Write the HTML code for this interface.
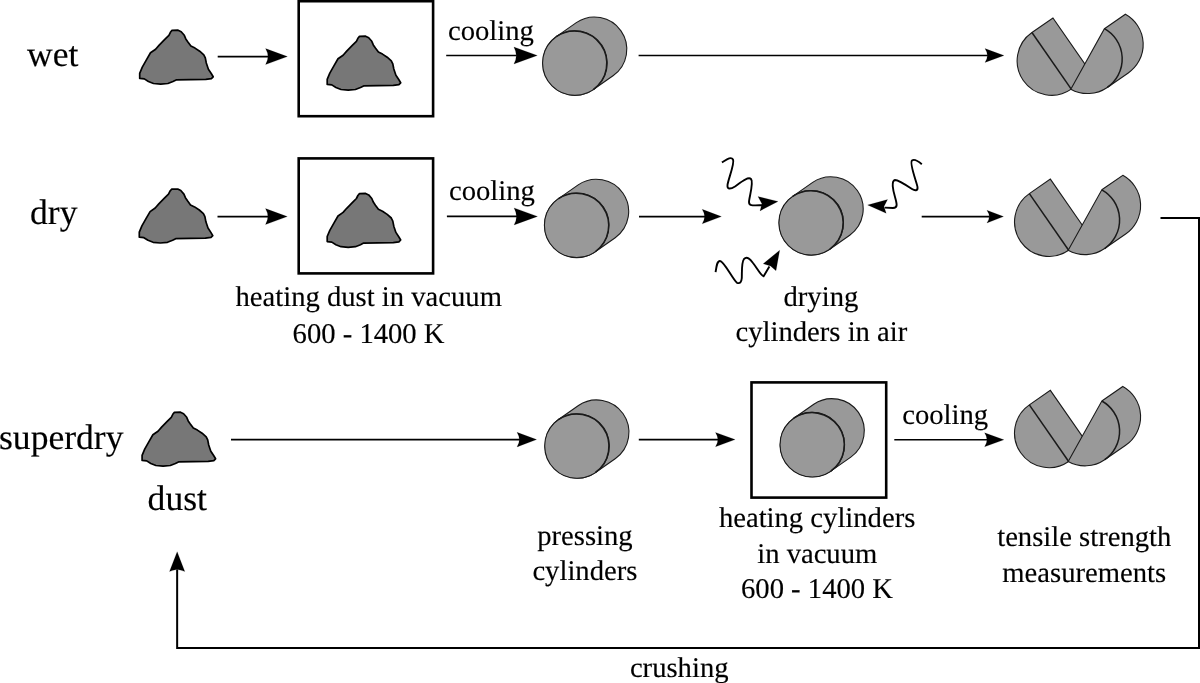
<!DOCTYPE html>
<html><head><meta charset="utf-8"><style>
html,body{margin:0;padding:0;background:#fff;width:1200px;height:683px;overflow:hidden;position:relative;font-family:"Liberation Serif",serif}
</style></head><body>
<svg width="1200" height="683" viewBox="0 0 1200 683" style="position:absolute;left:0;top:0;will-change:transform">
<rect width="1200" height="683" fill="#fff"/>
<g font-family="Liberation Serif, serif" fill="#000" stroke="#000" stroke-width="0.15" text-rendering="geometricPrecision">
<text x="27" y="65.6" font-size="35.6">wet</text>
<polygon points="172.0,30.4 178.1,30.2 181.2,31.7 184.3,35.3 185.8,38.9 187.9,42.0 190.9,46.1 195.0,48.1 199.7,51.2 203.8,54.8 205.3,57.9 206.3,63.0 208.4,69.2 211.4,73.8 213.2,76.8 211.4,78.6 205.8,79.4 176.1,79.9 173.0,81.5 167.9,83.5 160.7,84.2 153.5,83.5 148.4,81.5 144.3,78.9 139.7,78.4 139.7,73.3 142.3,67.1 146.4,59.9 150.5,52.8 155.6,49.2 159.2,45.1 164.8,39.4 168.9,35.3 170.4,32.3" fill="#777777" stroke="#000" stroke-width="1.7" stroke-linejoin="round"/>
<line x1="217.7" y1="56.6" x2="268.50" y2="56.6" stroke="#000" stroke-width="1.6"/>
<path d="M287.4,56.6 L265.60,48.60 Q268.00,53.00 268.00,56.6 Q268.00,60.20 265.60,64.60 Z" fill="#000"/>
<rect x="298.7" y="1.2" width="134.4" height="115" fill="none" stroke="#000" stroke-width="2.6"/>
<polygon points="359.5,36.4 365.6,36.2 368.7,37.7 371.8,41.3 373.3,44.9 375.4,48.0 378.4,52.1 382.5,54.1 387.2,57.2 391.3,60.8 392.8,63.9 393.8,69.0 395.9,75.2 398.9,79.8 400.7,82.8 398.9,84.6 393.3,85.4 363.6,85.9 360.5,87.5 355.4,89.5 348.2,90.2 341.0,89.5 335.9,87.5 331.8,84.9 327.2,84.4 327.2,79.3 329.8,73.1 333.9,65.9 338.0,58.8 343.1,55.2 346.7,51.1 352.3,45.4 356.4,41.3 357.9,38.3" fill="#777777" stroke="#000" stroke-width="1.7" stroke-linejoin="round"/>
<text x="448" y="39.7" font-size="28.65">cooling</text>
<line x1="446.2" y1="55.5" x2="516.80" y2="55.5" stroke="#000" stroke-width="1.6"/>
<path d="M537.3,55.5 L513.90,47.00 Q516.30,51.67 516.30,55.5 Q516.30,59.33 513.90,64.00 Z" fill="#000"/>
<path d="M556.33,36.64 L576.33,22.64 A32.3,32.3 0 0 1 613.37,75.56 L593.37,89.56 A32.3,32.3 0 0 1 556.33,36.64 Z" fill="#999999" stroke="#1a1a1a" stroke-width="1.1"/>
<circle cx="574.85" cy="63.10" r="32.3" fill="#999999" stroke="#1a1a1a" stroke-width="1.1"/>
<path d="M556.33,36.64 A32.3,32.3 0 0 1 593.37,89.56" fill="none" stroke="#1a1a1a" stroke-width="1.5"/>
<line x1="638.6" y1="55.5" x2="987.90" y2="55.5" stroke="#000" stroke-width="1.6"/>
<path d="M1004,55.5 L985.00,48.60 Q987.40,52.39 987.40,55.5 Q987.40,58.61 985.00,62.40 Z" fill="#000"/>
<path d="M1031.94,32.53 L1052.94,18.03 L1092.26,74.67 L1071.26,89.17 A34.47,34.47 0 0 1 1031.94,32.53 Z" fill="#999999" stroke="#1a1a1a" stroke-width="1.1" stroke-linejoin="miter"/>
<line x1="1031.94" y1="32.53" x2="1071.26" y2="89.17" stroke="#1a1a1a" stroke-width="1.5"/>
<path d="M1104.42,28.71 L1125.42,14.21 A34.61,34.61 0 0 1 1128.26,72.93 L1107.26,87.43 A34.61,34.61 0 0 1 1070.78,89.19 Z" fill="#999999" stroke="#1a1a1a" stroke-width="1.1" stroke-linejoin="miter"/>
<path d="M1104.42,28.71 A34.61,34.61 0 0 1 1107.26,87.43" fill="none" stroke="#1a1a1a" stroke-width="1.5"/>
<text x="30" y="223.75" font-size="35.6">dry</text>
<polygon points="171.6,189.2 177.7,189.0 180.8,190.5 183.9,194.1 185.4,197.7 187.5,200.8 190.5,204.9 194.6,206.9 199.3,210.0 203.4,213.6 204.9,216.7 205.9,221.8 208.0,228.0 211.0,232.6 212.8,235.6 211.0,237.4 205.4,238.2 175.7,238.7 172.6,240.3 167.5,242.3 160.3,243.0 153.1,242.3 148.0,240.3 143.9,237.7 139.3,237.2 139.3,232.1 141.9,225.9 146.0,218.7 150.1,211.6 155.2,208.0 158.8,203.9 164.4,198.2 168.5,194.1 170.0,191.1" fill="#777777" stroke="#000" stroke-width="1.7" stroke-linejoin="round"/>
<line x1="217.5" y1="216.6" x2="268.40" y2="216.6" stroke="#000" stroke-width="1.6"/>
<path d="M287.3,216.6 L265.50,208.60 Q267.90,213.00 267.90,216.6 Q267.90,220.20 265.50,224.60 Z" fill="#000"/>
<rect x="298.7" y="158.4" width="134.4" height="115" fill="none" stroke="#000" stroke-width="2.6"/>
<polygon points="359.5,193.6 365.6,193.4 368.7,194.9 371.8,198.5 373.3,202.1 375.4,205.2 378.4,209.3 382.5,211.3 387.2,214.4 391.3,218.0 392.8,221.1 393.8,226.2 395.9,232.4 398.9,237.0 400.7,240.0 398.9,241.8 393.3,242.6 363.6,243.1 360.5,244.7 355.4,246.7 348.2,247.4 341.0,246.7 335.9,244.7 331.8,242.1 327.2,241.6 327.2,236.5 329.8,230.3 333.9,223.1 338.0,216.0 343.1,212.4 346.7,208.3 352.3,202.6 356.4,198.5 357.9,195.5" fill="#777777" stroke="#000" stroke-width="1.7" stroke-linejoin="round"/>
<text x="449" y="200.2" font-size="28.65">cooling</text>
<line x1="446.9" y1="216.4" x2="517.00" y2="216.4" stroke="#000" stroke-width="1.6"/>
<path d="M537.5,216.4 L514.10,207.90 Q516.50,212.58 516.50,216.4 Q516.50,220.22 514.10,224.90 Z" fill="#000"/>
<path d="M558.18,198.84 L578.18,184.84 A32.3,32.3 0 0 1 615.22,237.76 L595.22,251.76 A32.3,32.3 0 0 1 558.18,198.84 Z" fill="#999999" stroke="#1a1a1a" stroke-width="1.1"/>
<circle cx="576.70" cy="225.30" r="32.3" fill="#999999" stroke="#1a1a1a" stroke-width="1.1"/>
<path d="M558.18,198.84 A32.3,32.3 0 0 1 595.22,251.76" fill="none" stroke="#1a1a1a" stroke-width="1.5"/>
<line x1="639" y1="216.6" x2="705.10" y2="216.6" stroke="#000" stroke-width="1.6"/>
<path d="M721.4,216.6 L702.20,209.35 Q704.60,213.34 704.60,216.6 Q704.60,219.86 702.20,223.85 Z" fill="#000"/>
<path d="M792.68,196.34 L812.68,182.34 A32.3,32.3 0 0 1 849.72,235.26 L829.72,249.26 A32.3,32.3 0 0 1 792.68,196.34 Z" fill="#999999" stroke="#1a1a1a" stroke-width="1.1"/>
<circle cx="811.20" cy="222.80" r="32.3" fill="#999999" stroke="#1a1a1a" stroke-width="1.1"/>
<path d="M792.68,196.34 A32.3,32.3 0 0 1 829.72,249.26" fill="none" stroke="#1a1a1a" stroke-width="1.5"/>
<line x1="921.7" y1="216.6" x2="989.80" y2="216.6" stroke="#000" stroke-width="1.6"/>
<path d="M1003.5,216.6 L986.90,210.20 Q989.30,213.72 989.30,216.6 Q989.30,219.48 986.90,223.00 Z" fill="#000"/>
<path d="M1029.34,193.63 L1050.34,179.13 L1089.66,235.77 L1068.66,250.27 A34.47,34.47 0 0 1 1029.34,193.63 Z" fill="#999999" stroke="#1a1a1a" stroke-width="1.1" stroke-linejoin="miter"/>
<line x1="1029.34" y1="193.63" x2="1068.66" y2="250.27" stroke="#1a1a1a" stroke-width="1.5"/>
<path d="M1101.82,189.81 L1122.82,175.31 A34.61,34.61 0 0 1 1125.66,234.03 L1104.66,248.53 A34.61,34.61 0 0 1 1068.18,250.29 Z" fill="#999999" stroke="#1a1a1a" stroke-width="1.1" stroke-linejoin="miter"/>
<path d="M1101.82,189.81 A34.61,34.61 0 0 1 1104.66,248.53" fill="none" stroke="#1a1a1a" stroke-width="1.5"/>
<text x="235.5" y="305.75" font-size="28.65">heating dust in vacuum</text>
<text x="292.6" y="342.5" font-size="28.65">600 - 1400 K</text>
<text x="783.5" y="305.5" font-size="28.65">drying</text>
<text x="735.5" y="341.3" font-size="28.65">cylinders in air</text>
<path d="M721.9,162.4 C726,160 731,156 733,159.5 C735,163 728,180 727.5,185 C727,190 731,189 735,186.5 C740,183 748,176 751,179 C754,182 749,198 749,202 C749,206 752,205.5 762,205.2" fill="none" stroke="#000" stroke-width="1.9"/>
<path d="M778,201.4 L758,196.6 L761.9,203.8 L760,210.9 Z" fill="#000"/>
<path d="M921.8,164.3 C918,161 914,159 912,160.5 C909,163 917,183 917.5,187 C918,191 915,191 912,189 C906,185 898,180 895,180 C891,181 893,190 895,197 C897,204 898,208 893,208 L884.7,207.6" fill="none" stroke="#000" stroke-width="1.9"/>
<path d="M867.6,205 L887.6,199.5 L884,206.5 L886.2,213.3 Z" fill="#000"/>
<path d="M715.6,272.2 C716.5,266 717,261 720,261 C724,261 733,280 737,282.8 C740,284 741.5,282 741.8,278 C742,270 741.5,262 744,259 C747,256 750,259 753,263 C757,268 761,276 763.6,276.2 L769.4,266.4" fill="none" stroke="#000" stroke-width="1.9"/>
<path d="M779.7,250.2 L763.2,263.8 L770.5,266 L776,270.7 Z" fill="#000"/>
<polyline points="1160.5,218 1199,218 1199,648.1 177.15,648.1 177.15,569.5" fill="none" stroke="#000" stroke-width="2"/>
<path d="M177.15,551.65 L169.5,571.6 Q177.15,569 177.15,569.8 Q177.15,569 184.8,571.6 Z" fill="#000"/>
<text x="-1" y="449.3" font-size="35.6">superdry</text>
<polygon points="174.4,412.4 180.5,412.2 183.6,413.7 186.7,417.3 188.2,420.9 190.3,424.0 193.3,428.1 197.4,430.1 202.1,433.2 206.2,436.8 207.7,439.9 208.7,445.0 210.8,451.2 213.8,455.8 215.6,458.8 213.8,460.6 208.2,461.4 178.5,461.9 175.4,463.5 170.3,465.5 163.1,466.2 155.9,465.5 150.8,463.5 146.7,460.9 142.1,460.4 142.1,455.3 144.7,449.1 148.8,441.9 152.9,434.8 158.0,431.2 161.6,427.1 167.2,421.4 171.3,417.3 172.8,414.3" fill="#777777" stroke="#000" stroke-width="1.7" stroke-linejoin="round"/>
<text x="147.6" y="509.9" font-size="35.6">dust</text>
<line x1="231" y1="439.6" x2="519.90" y2="439.6" stroke="#000" stroke-width="1.6"/>
<path d="M536.6,439.6 L517.00,432.30 Q519.40,436.31 519.40,439.6 Q519.40,442.89 517.00,446.90 Z" fill="#000"/>
<path d="M558.48,419.54 L578.48,405.54 A32.3,32.3 0 0 1 615.52,458.46 L595.52,472.46 A32.3,32.3 0 0 1 558.48,419.54 Z" fill="#999999" stroke="#1a1a1a" stroke-width="1.1"/>
<circle cx="577.00" cy="446.00" r="32.3" fill="#999999" stroke="#1a1a1a" stroke-width="1.1"/>
<path d="M558.48,419.54 A32.3,32.3 0 0 1 595.52,472.46" fill="none" stroke="#1a1a1a" stroke-width="1.5"/>
<text x="537.2" y="545" font-size="28.65">pressing</text>
<text x="532.4" y="580.4" font-size="28.65">cylinders</text>
<line x1="638.8" y1="439.6" x2="718.40" y2="439.6" stroke="#000" stroke-width="1.6"/>
<path d="M735.1,439.6 L715.50,432.40 Q717.90,436.36 717.90,439.6 Q717.90,442.84 715.50,446.80 Z" fill="#000"/>
<rect x="751.5" y="382.4" width="134.7" height="115.2" fill="none" stroke="#000" stroke-width="2.6"/>
<path d="M793.78,418.24 L813.78,404.24 A32.3,32.3 0 0 1 850.82,457.16 L830.82,471.16 A32.3,32.3 0 0 1 793.78,418.24 Z" fill="#999999" stroke="#1a1a1a" stroke-width="1.1"/>
<circle cx="812.30" cy="444.70" r="32.3" fill="#999999" stroke="#1a1a1a" stroke-width="1.1"/>
<path d="M793.78,418.24 A32.3,32.3 0 0 1 830.82,471.16" fill="none" stroke="#1a1a1a" stroke-width="1.5"/>
<text x="902.2" y="423.5" font-size="28.65">cooling</text>
<line x1="894.3" y1="439.8" x2="987.50" y2="439.8" stroke="#000" stroke-width="1.6"/>
<path d="M1003.9,439.8 L984.60,432.80 Q987.00,436.65 987.00,439.8 Q987.00,442.95 984.60,446.80 Z" fill="#000"/>
<path d="M1029.34,404.83 L1050.34,390.33 L1089.66,446.97 L1068.66,461.47 A34.47,34.47 0 0 1 1029.34,404.83 Z" fill="#999999" stroke="#1a1a1a" stroke-width="1.1" stroke-linejoin="miter"/>
<line x1="1029.34" y1="404.83" x2="1068.66" y2="461.47" stroke="#1a1a1a" stroke-width="1.5"/>
<path d="M1101.82,401.01 L1122.82,386.51 A34.61,34.61 0 0 1 1125.66,445.23 L1104.66,459.73 A34.61,34.61 0 0 1 1068.18,461.49 Z" fill="#999999" stroke="#1a1a1a" stroke-width="1.1" stroke-linejoin="miter"/>
<path d="M1101.82,401.01 A34.61,34.61 0 0 1 1104.66,459.73" fill="none" stroke="#1a1a1a" stroke-width="1.5"/>
<text x="718.9" y="527.2" font-size="28.65">heating cylinders</text>
<text x="757.2" y="562.6" font-size="28.65">in vacuum</text>
<text x="741" y="598.2" font-size="28.65">600 - 1400 K</text>
<text x="997.2" y="545.6" font-size="28.65">tensile strength</text>
<text x="1002.3" y="581.9" font-size="28.65">measurements</text>
<text x="629.9" y="676.9" font-size="28.65">crushing</text>
</g></svg>
</body></html>
